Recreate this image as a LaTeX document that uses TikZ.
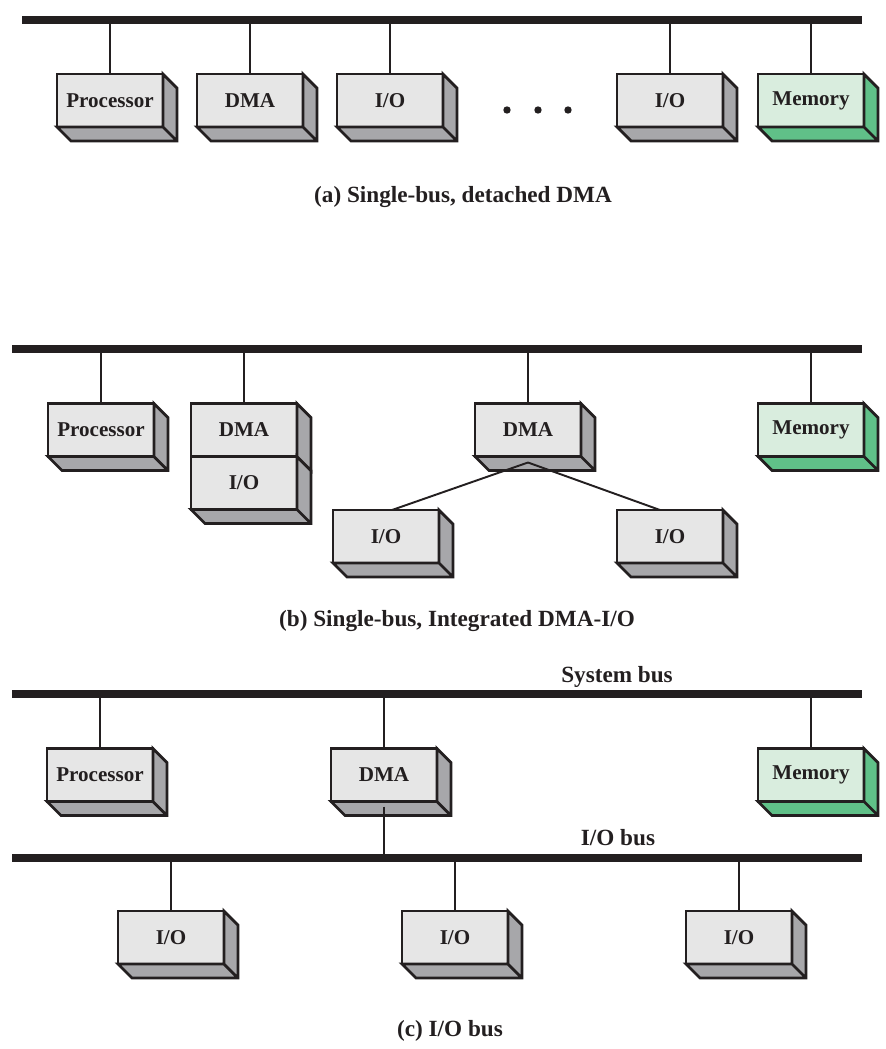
\documentclass[tikz,border=0pt]{standalone}
\usepackage{fontspec}
\setmainfont{Liberation Serif}
\usetikzlibrary{positioning}
\definecolor{ink}{RGB}{35,31,32}
\definecolor{frontgray}{RGB}{230,230,230}
\definecolor{sidegray}{RGB}{167,167,170}
\definecolor{frontgreen}{RGB}{217,237,222}
\definecolor{sidegreen}{RGB}{96,192,136}
\tikzset{unit/.style={draw=ink, line width=1.6pt, fill=frontgray,
         minimum width=2.12cm, minimum height=1.06cm,
         inner sep=0pt, outer sep=0pt, text=ink,
         font=\bfseries\fontsize{12}{14}\selectfont},
         mem/.style={unit, fill=frontgreen},
         face/.style={draw=ink, line width=1.6pt},
         bus/.style={draw=ink, line width=4pt},
         tap/.style={draw=ink, line width=1.1pt},
         caption/.style={text=ink, font=\bfseries\fontsize{13.2}{15}\selectfont}}

\begin{document}
\begin{tikzpicture}[x=0.02cm, y=-0.02cm]
  \useasboundingbox (0,0) rectangle (886,1049);
  \coordinate (busaL) at (22,20);
  \coordinate (busaR) at (862,20);
  \coordinate (busbL) at (12,349);
  \coordinate (busbR) at (862,349);
  \coordinate (syscL) at (12,694);
  \coordinate (syscR) at (862,694);
  \coordinate (ioscL) at (12,858);
  \coordinate (ioscR) at (862,858);
  \draw[bus] (busaL) -- (busaR);
  \draw[bus] (busbL) -- (busbR);
  \draw[bus] (syscL) -- (syscR);
  \draw[bus] (ioscL) -- (ioscR);

  \node[unit] (pa) at (110,100.5) {Processor};
  \node[unit] (da) at (250,100.5) {DMA};
  \node[unit] (ia1) at (390,100.5) {I/O};
  \node[unit] (ia2) at (670,100.5) {I/O};
  \node[mem] (ma) at (811,100.5) {Memory};
  \foreach \x in {507,538,568}
    \fill[ink] (\x,110) circle[radius=2.1pt];
  \node[caption] (capa) at (463,197) {(a) Single-bus, detached DMA};

  \node[unit] (pb) at (101,430) {Processor};
  \node[unit] (dmab) at (244,430) {DMA};
  \node[unit] (iob) at (244,483) {I/O};
  \node[unit] (dmb) at (528,430) {DMA};
  \node[unit] (iob1) at (386,536.5) {I/O};
  \node[unit] (iob2) at (670,536.5) {I/O};
  \node[mem] (mb) at (811,430) {Memory};
  \node[caption] (capb) at (457,621) {(b) Single-bus, Integrated DMA-I/O};

  \node[caption] (sysl) at (617,677) {System bus};
  \node[unit] (pc) at (100,775) {Processor};
  \node[unit] (dmc) at (384,775) {DMA};
  \node[mem] (mc) at (811,775) {Memory};
  \node[caption] (iol) at (618,838) {I/O bus};
  \node[unit] (ioc1) at (171,937.5) {I/O};
  \node[unit] (ioc2) at (455,937.5) {I/O};
  \node[unit] (ioc3) at (739,937.5) {I/O};
  \node[caption] (capc) at (450,1031) {(c) I/O bus};

  \foreach \n in {pa,da,ia1,ia2,ma}
    \draw[tap] (\n.north) -- (\n.north |- busaL);
  \foreach \n in {pb,dmab,dmb,mb}
    \draw[tap] (\n.north) -- (\n.north |- busbL);
  \foreach \n in {pc,dmc,mc}
    \draw[tap] (\n.north) -- (\n.north |- syscL);
  \foreach \n in {ioc1,ioc2,ioc3}
    \draw[tap] (\n.north) -- (\n.north |- ioscL);

  \foreach \n/\c in {pa/sidegray,da/sidegray,ia1/sidegray,ia2/sidegray,
      ma/sidegreen,pb/sidegray,iob/sidegray,dmb/sidegray,iob1/sidegray,
      iob2/sidegray,mb/sidegreen,pc/sidegray,dmc/sidegray,mc/sidegreen,
      ioc1/sidegray,ioc2/sidegray,ioc3/sidegray}
    \draw[face, fill=\c] (\n.north east) -- ++(14,14)
      -- ([shift={(14,14)}]\n.south east) -- ([shift={(14,14)}]\n.south west)
      -- (\n.south west) -- (\n.south east) -- cycle
      (\n.south east) -- ++(14,14);
  \draw[face, fill=sidegray] (dmab.north east) -- ++(14,14)
    -- ([shift={(14,14)}]dmab.south east) -- (dmab.south east) -- cycle;

  \coordinate (apex) at ([yshift=-0.12cm]dmb.south);
  \draw[tap] (apex) -- ([xshift=0.12cm]iob1.north);
  \draw[tap] (apex) -- ([xshift=-0.2cm]iob2.north);
  \draw[tap] ([yshift=-0.1cm]dmc.south) -- (dmc.south |- ioscL);
\end{tikzpicture}
\end{document}
